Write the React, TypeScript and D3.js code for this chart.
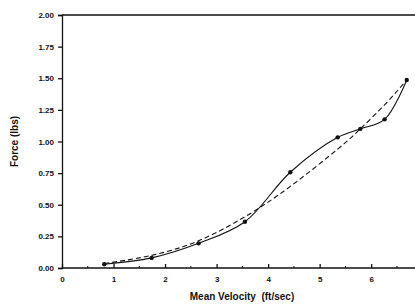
import { useEffect, useRef } from "react";
import * as d3 from "d3";

// measured points (solid curve)
const velocity = [0.82, 1.74, 2.65, 3.55, 4.43, 5.35, 5.79, 6.26, 6.69];
const force = [0.03, 0.08, 0.195, 0.366, 0.757, 1.033, 1.1, 1.175, 1.486];

// fitted trend (dashed curve)
const fitVelocity = [0.82, 1.74, 2.65, 3.55, 4.43, 5.35, 5.79, 6.26, 6.69];
const fitForce = [0.035, 0.1, 0.215, 0.405, 0.645, 0.94, 1.1, 1.29, 1.486];

const yTicks = [0, 0.25, 0.5, 0.75, 1.0, 1.25, 1.5, 1.75, 2.0];
const xTicks = [0, 1, 2, 3, 4, 5, 6];
const xMinorTicks = [0.5, 1.5, 2.5, 3.5, 4.5, 5.5, 6.5];

export default function App() {
  const svgRef = useRef<SVGSVGElement>(null);

  useEffect(() => {
    document.body.style.margin = "0";
    if (!svgRef.current) return;
    const svg = d3.select(svgRef.current);
    svg.selectAll("*").remove();

    const width = 415;
    const height = 306;
    const margin = { top: 15, right: 0, bottom: 38, left: 62 };
    const ink = "#111";
    const font = "Arial, 'Liberation Sans', sans-serif";

    const x = d3
      .scaleLinear()
      .domain([0, 6.85])
      .range([margin.left, width - margin.right]);
    const y = d3
      .scaleLinear()
      .domain([0, 2])
      .range([height - margin.bottom, margin.top]);

    // y axis
    const yAxis = d3
      .axisLeft(y)
      .tickValues(yTicks)
      .tickSize(4)
      .tickPadding(4)
      .tickFormat(d3.format(".2f"));
    const gy = svg
      .append("g")
      .attr("transform", `translate(${margin.left},0)`)
      .call(yAxis);

    // x axis (ticks point up into the plot)
    const xAxis = d3
      .axisBottom(x)
      .tickValues(xTicks)
      .tickSize(-4)
      .tickPadding(8)
      .tickFormat(d3.format("d"));
    const gx = svg
      .append("g")
      .attr("transform", `translate(0,${y(0)})`)
      .call(xAxis);
    gx.select(".domain").attr("d", `M${margin.left},0H${width}`);

    svg
      .append("g")
      .attr("transform", `translate(0,${y(0)})`)
      .selectAll("line")
      .data(xMinorTicks)
      .enter()
      .append("line")
      .attr("x1", (d) => x(d))
      .attr("x2", (d) => x(d))
      .attr("y1", 0)
      .attr("y2", -2)
      .attr("stroke", ink);

    [gx, gy].forEach((g) => {
      g.selectAll(".domain, .tick line")
        .attr("stroke", ink)
        .attr("stroke-width", 1.3);
      g.selectAll("text")
        .attr("fill", ink)
        .style("font-family", font)
        .style("font-size", "8px")
        .style("font-weight", "bold");
    });

    // top frame line
    svg
      .append("line")
      .attr("x1", margin.left)
      .attr("x2", width)
      .attr("y1", y(2))
      .attr("y2", y(2))
      .attr("stroke", ink)
      .attr("stroke-width", 1.3);

    const fitData = fitVelocity.map((v, i) => [v, fitForce[i]] as [number, number]);
    const data = velocity.map((v, i) => [v, force[i]] as [number, number]);

    const fitLine = d3
      .line<[number, number]>()
      .x((d) => x(d[0]))
      .y((d) => y(d[1]))
      .curve(d3.curveNatural);

    svg
      .append("path")
      .datum(fitData)
      .attr("fill", "none")
      .attr("stroke", ink)
      .attr("stroke-width", 1.1)
      .attr("stroke-dasharray", "5,3")
      .attr("d", fitLine);

    const dataLine = d3
      .line<[number, number]>()
      .x((d) => x(d[0]))
      .y((d) => y(d[1]))
      .curve(d3.curveCatmullRom.alpha(0.5));

    svg
      .append("path")
      .datum(data)
      .attr("fill", "none")
      .attr("stroke", ink)
      .attr("stroke-width", 1.1)
      .attr("d", dataLine);

    svg
      .selectAll(".pt")
      .data(data)
      .enter()
      .append("circle")
      .attr("class", "pt")
      .attr("cx", (d) => x(d[0]))
      .attr("cy", (d) => y(d[1]))
      .attr("r", 2.2)
      .attr("fill", ink);

    // axis titles
    svg
      .append("text")
      .attr("transform", `translate(18,${(y(0) + y(2)) / 2}) rotate(-90)`)
      .attr("text-anchor", "middle")
      .attr("fill", ink)
      .style("font-family", font)
      .style("font-size", "10px")
      .style("font-weight", "bold")
      .text("Force (lbs)");

    svg
      .append("text")
      .attr("x", 242)
      .attr("y", 300)
      .attr("text-anchor", "middle")
      .attr("fill", ink)
      .style("font-family", font)
      .style("font-size", "10px")
      .style("font-weight", "bold")
      .style("white-space", "pre")
      .text("Mean Velocity  (ft/sec)");
  }, []);

  return (
    <div style={{ width: 415, height: 306, background: "#fff" }}>
      <svg ref={svgRef} width={415} height={306} style={{ display: "block" }} />
    </div>
  );
}
